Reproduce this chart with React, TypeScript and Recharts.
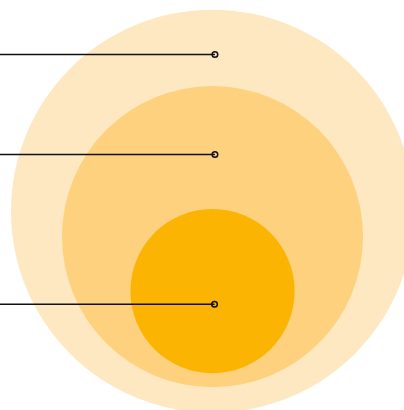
import { Cell, Scatter, ScatterChart, XAxis, YAxis, ZAxis } from 'recharts'

// nested bubbles, biggest first so the smaller ones sit on top
const names = ['Total', 'Serviceable', 'Obtainable']
const sizes = [100, 55.8, 16.6]
const centerX = [52.6, 52.6, 52.6]
const centerY = [48.5, 42.3, 29.0]
const colors = ['#FEE8C1', '#FDD17D', '#FAB401']

// leader lines running off to the left edge
const pointerStartX = 0
const pointerX = [53.2, 53.2, 53.1]
const pointerY = [86.7, 62.3, 25.8]

const MAX_R = 201.5

const data = names.map((name, i) => ({
  name,
  x: centerX[i],
  y: centerY[i],
  z: sizes[i],
}))

const pointers = names.map((name, i) => [
  { name, x: pointerStartX, y: pointerY[i], end: false },
  { name, x: pointerX[i], y: pointerY[i], end: true },
])

const PointerDot = (props: any) => {
  const { cx, cy, payload } = props
  if (!payload || !payload.end) return <g />
  return <circle cx={cx} cy={cy} r={2.8} fill='none' stroke='#111' strokeWidth={1.5} />
}

const App = () => {
  return (
    <div style={{ position: 'absolute', left: 0, top: 0 }}>
      <ScatterChart width={404} height={410} margin={{ top: 0, right: 0, bottom: 0, left: 0 }}>
        <XAxis type='number' dataKey='x' domain={[0, 100]} hide />
        <YAxis type='number' dataKey='y' domain={[0, 100]} hide />
        <ZAxis type='number' dataKey='z' domain={[0, 100]} range={[0, Math.PI * MAX_R * MAX_R]} />
        <ZAxis zAxisId='pt' type='number' range={[20, 20]} />
        <Scatter data={data} isAnimationActive={false}>
          {data.map((d, i) => (
            <Cell key={d.name} fill={colors[i]} />
          ))}
        </Scatter>
        {pointers.map((p) => (
          <Scatter
            key={p[0].name}
            data={p}
            zAxisId='pt'
            line={{ stroke: '#111', strokeWidth: 1.5 }}
            shape={PointerDot}
            isAnimationActive={false}
          />
        ))}
      </ScatterChart>
    </div>
  )
}

export default App
